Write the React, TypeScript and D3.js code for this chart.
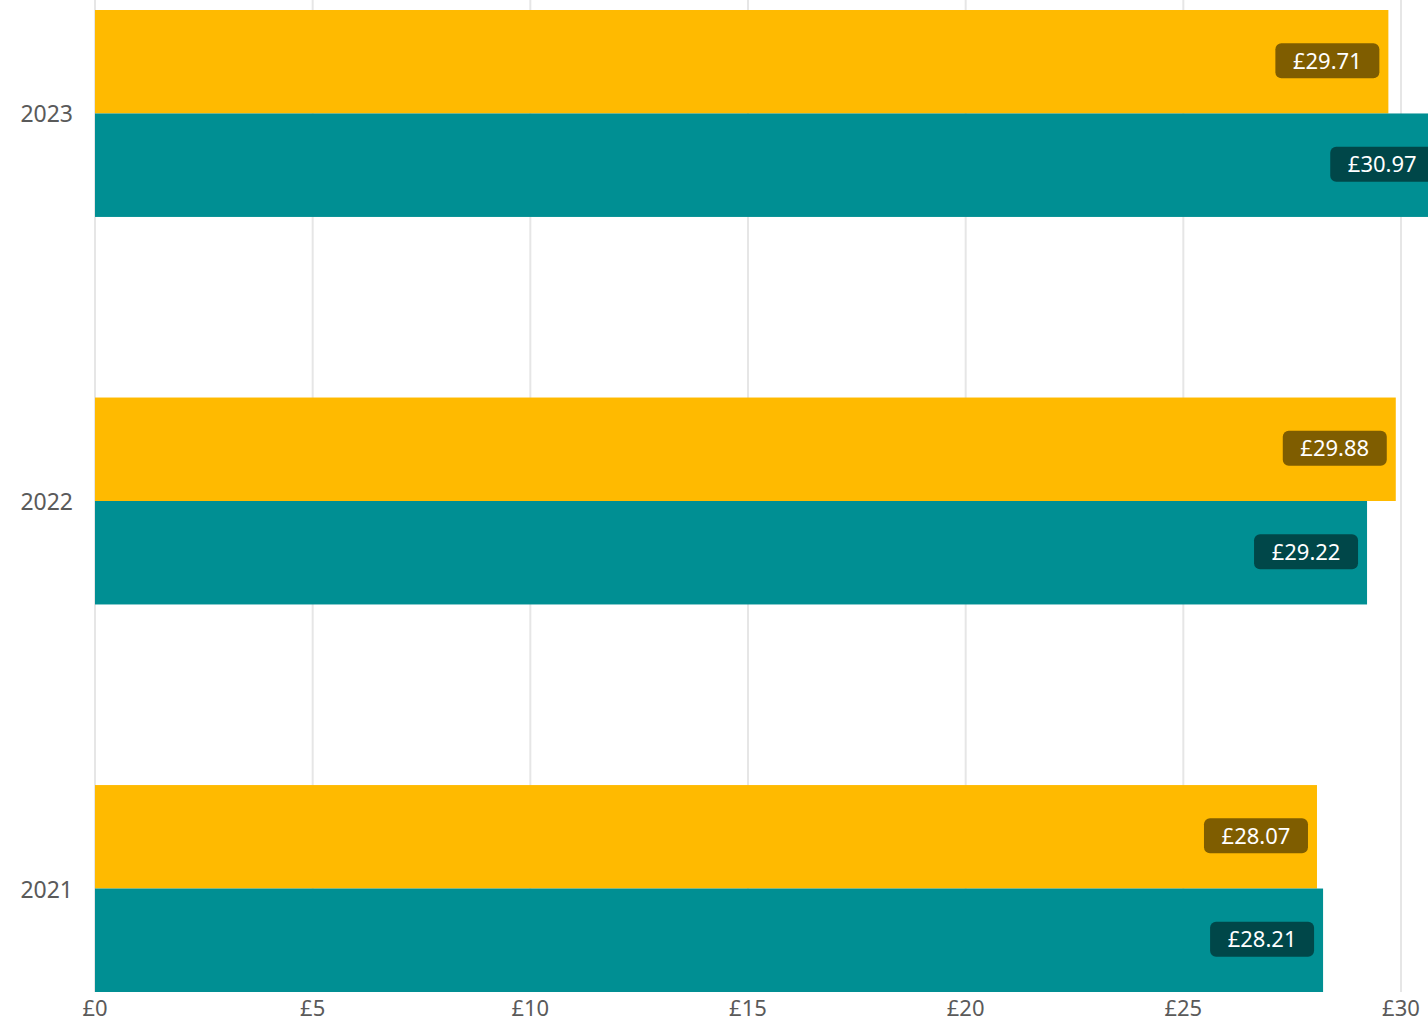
import React, { useEffect, useRef } from 'react';
import * as d3 from 'd3';

const years = ['2023', '2022', '2021'];
const seriesYellow = [29.71, 29.88, 28.07];
const seriesTeal = [30.97, 29.22, 28.21];
const xTicks = [0, 5, 10, 15, 20, 25, 30];
const seriesColors = ['#FFBA00', '#008F93'];

const WIDTH = 1428;
const HEIGHT = 1022;

const App: React.FC = () => {
  const svgRef = useRef<SVGSVGElement>(null);

  useEffect(() => {
    if (!svgRef.current) return;
    const svg = d3.select(svgRef.current);
    svg.selectAll('*').remove();

    const left = 95, right = 1401, top = 10, bottom = 992;
    const font = '"Noto Sans", "Open Sans", sans-serif';

    const x = d3.scaleLinear().domain([0, 30]).range([left, right]);
    const y = d3.scaleBand<string>().domain(years).range([top, bottom]).paddingInner(0.466).paddingOuter(0);
    const inner = d3.scaleBand<number>().domain([0, 1]).range([0, y.bandwidth()]);

    const g = svg.append('g');

    // gridlines
    xTicks.forEach(t => {
      g.append('line')
        .attr('x1', x(t)).attr('x2', x(t))
        .attr('y1', 0).attr('y2', bottom)
        .attr('stroke', '#e6e6e6').attr('stroke-width', 2);
    });

    // bars
    const series = [seriesYellow, seriesTeal];
    series.forEach((vals, si) => {
      vals.forEach((v, i) => {
        const y0 = (y(years[i]) ?? 0) + (inner(si) ?? 0);
        g.append('rect')
          .attr('x', x(0)).attr('y', y0)
          .attr('width', x(v) - x(0)).attr('height', inner.bandwidth())
          .attr('fill', seriesColors[si]);
      });
    });

    // value labels
    series.forEach((vals, si) => {
      vals.forEach((v, i) => {
        const cy = (y(years[i]) ?? 0) + (inner(si) ?? 0) + inner.bandwidth() / 2;
        const w = 104, h = 35;
        const rx = x(v) - 9;
        g.append('rect')
          .attr('x', rx - w).attr('y', cy - h / 2 - 1)
          .attr('width', w).attr('height', h)
          .attr('rx', 6).attr('ry', 6)
          .attr('fill', 'rgba(0,0,0,0.5)');
        g.append('text')
          .attr('x', rx - w / 2).attr('y', cy - 2)
          .attr('text-anchor', 'middle').attr('dominant-baseline', 'central')
          .attr('font-family', font).attr('font-size', 22)
          .attr('fill', '#ffffff')
          .text(`£${v.toFixed(2)}`);
      });
    });

    // y labels
    years.forEach(yr => {
      g.append('text')
        .attr('x', 73).attr('y', (y(yr) ?? 0) + y.bandwidth() / 2)
        .attr('text-anchor', 'end').attr('dominant-baseline', 'central')
        .attr('font-family', font).attr('font-size', 23)
        .attr('fill', '#5a5a5a')
        .text(yr);
    });

    // x tick labels
    xTicks.forEach(t => {
      g.append('text')
        .attr('x', x(t)).attr('y', 1016)
        .attr('text-anchor', 'middle')
        .attr('font-family', font).attr('font-size', 22)
        .attr('fill', '#5a5a5a')
        .text(`£${t}`);
    });
  }, []);

  return (
    <div style={{ position: 'fixed', left: 0, top: 0, width: WIDTH, height: HEIGHT, background: '#fff' }}>
      <svg ref={svgRef} width={WIDTH} height={HEIGHT} style={{ display: 'block' }} />
    </div>
  );
};

export default App;
